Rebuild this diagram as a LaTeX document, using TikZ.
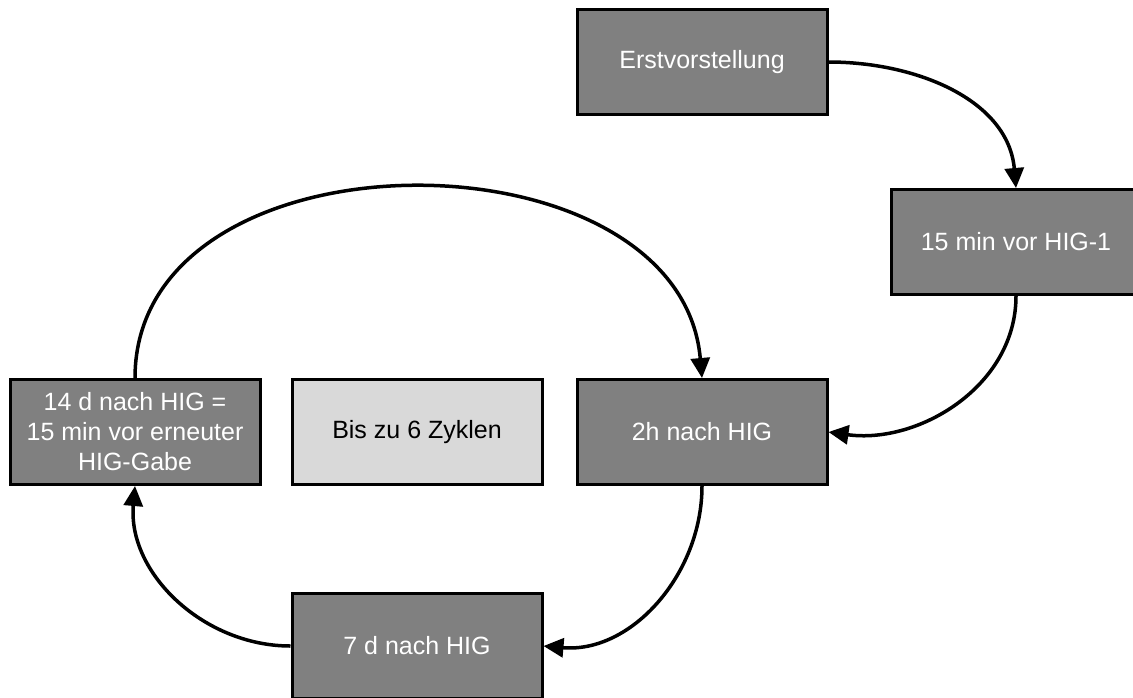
\documentclass[tikz,border=0pt]{standalone}
\usepackage{fontspec}
\setmainfont{Liberation Sans}
\usetikzlibrary{arrows.meta}
\definecolor{boxgray}{RGB}{128,128,128}
\definecolor{lightbox}{RGB}{217,217,217}
\begin{document}
\begin{tikzpicture}[x=1pt,y=-1pt,
  box/.style={draw=black, line width=3pt, fill=boxgray, text=white,
    minimum width=250pt, minimum height=105pt, inner sep=0pt, align=center,
    font=\fontsize{25}{30}\selectfont},
  lbox/.style={box, fill=lightbox, text=black},
  conn/.style={line width=3.5pt, -{Triangle[length=20pt,width=19pt]}}
]
\clip (0,0) rectangle (1133,697);
\fill[white] (0,0) rectangle (1133,697);
\node[box] (erst) at (702,62) {Erstvorstellung};
\node[box] (hig1) at (1016,242) {15 min vor HIG-1};
\node[box] (h2) at (702,432) {2h nach HIG};
\node[lbox] (zyk) at (417,432) {Bis zu 6 Zyklen};
\node[box] (d14) at (135,432) {14 d nach HIG =\\15 min vor erneuter\\HIG-Gabe};
\node[box] (d7) at (417,646) {7 d nach HIG};
\draw[conn] (erst.east) to[out=0,in=95] (hig1.north);
\draw[conn] (hig1.south) to[out=-90,in=-8] (h2.east);
\draw[conn] (h2.south) to[out=-90,in=-5] (d7.east);
\draw[conn] (d7.west) to[out=180,in=-95] (d14.south);
\draw[conn] (d14.north) to[out=90,in=95,looseness=1.15] (h2.north);
\end{tikzpicture}
\end{document}
